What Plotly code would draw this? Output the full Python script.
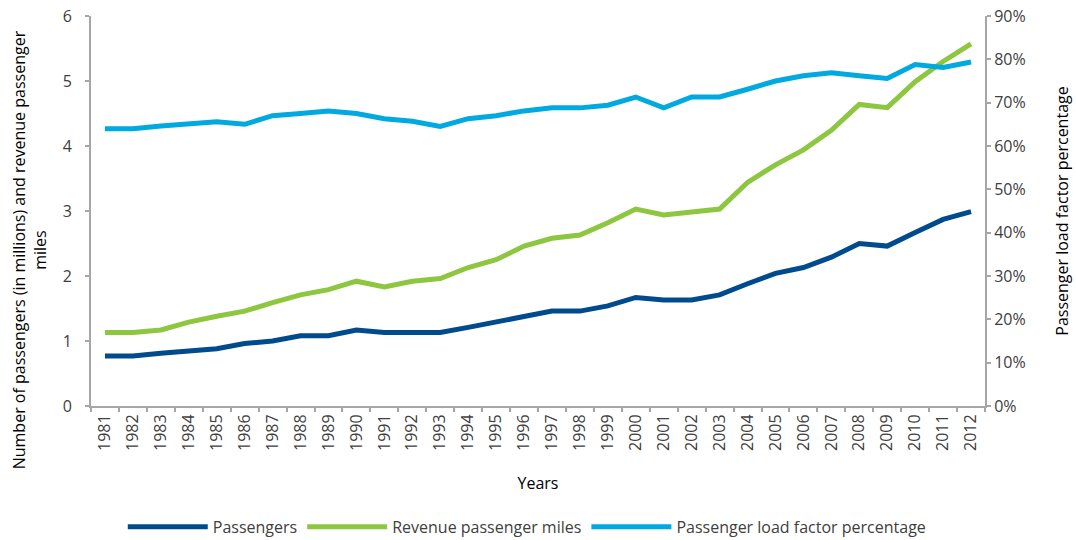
import plotly.graph_objects as go

# -- Data --
YEARS = [str(y) for y in range(1981, 2013)]

PASSENGERS = [
    0.77, 0.77, 0.81, 0.84, 0.88, 0.96, 1.00, 1.08, 1.08, 1.17,
    1.13, 1.13, 1.13, 1.21, 1.29, 1.37, 1.46, 1.46, 1.54, 1.67,
    1.63, 1.63, 1.71, 1.88, 2.04, 2.13, 2.29, 2.50, 2.46, 2.67,
    2.87, 2.99,
]

REVENUE_MILES = [
    1.13, 1.13, 1.17, 1.29, 1.38, 1.46, 1.59, 1.71, 1.79, 1.92,
    1.83, 1.92, 1.96, 2.13, 2.25, 2.46, 2.58, 2.63, 2.82, 3.03,
    2.94, 2.99, 3.03, 3.44, 3.71, 3.94, 4.24, 4.64, 4.59, 4.99,
    5.30, 5.57,
]

LOAD_FACTOR = [
    64.0, 64.0, 64.6, 65.1, 65.6, 65.0, 67.0, 67.5, 68.1, 67.5,
    66.3, 65.7, 64.5, 66.3, 67.0, 68.1, 68.8, 68.8, 69.4, 71.3,
    68.8, 71.3, 71.3, 73.1, 75.0, 76.2, 76.9, 76.2, 75.6, 78.8,
    78.1, 79.4,
]

COLOURS = {
    "passengers": "#004b8d",
    "revenue": "#8dc63f",
    "load": "#00a9e0",
    "axis": "#a6a6a6",
    "text": "#404040",
}

FONT = "Open Sans, Noto Sans, sans-serif"

fig = go.Figure()

fig.add_trace(go.Scatter(
    name="Passengers", x=YEARS, y=PASSENGERS, mode="lines",
    line=dict(color=COLOURS["passengers"], width=5),
))
fig.add_trace(go.Scatter(
    name="Revenue passenger miles", x=YEARS, y=REVENUE_MILES, mode="lines",
    line=dict(color=COLOURS["revenue"], width=5),
))
fig.add_trace(go.Scatter(
    name="Passenger load factor percentage", x=YEARS, y=LOAD_FACTOR,
    mode="lines", yaxis="y2",
    line=dict(color=COLOURS["load"], width=5),
))

axis_common = dict(
    showgrid=False, zeroline=False, showline=True, automargin=False,
    linecolor=COLOURS["axis"], linewidth=2,
    ticks="outside", ticklen=4, tickcolor=COLOURS["axis"], tickwidth=2,
    tickfont=dict(size=16, color=COLOURS["text"]),
)

title_font = dict(size=16, color="black")

fig.update_layout(
    width=1076, height=540,
    margin=dict(l=91, r=91, t=16, b=134, autoexpand=False),
    paper_bgcolor="white", plot_bgcolor="white",
    font=dict(family=FONT, color=COLOURS["text"]),
    showlegend=True,
    xaxis=dict(
        **axis_common,
        type="category", range=[-0.5, len(YEARS) - 0.5],
        tickson="boundaries", tickangle=-90,
        title=dict(text="Years", font=title_font, standoff=28),
    ),
    yaxis=dict(
        **axis_common,
        range=[0, 6], dtick=1, ticklabelstandoff=10,
    ),
    yaxis2=dict(
        **axis_common,
        overlaying="y", side="right",
        range=[0, 90], dtick=10, ticksuffix="%",
        title=dict(
            text="Passenger load factor percentage",
            font=title_font, standoff=32,
        ),
    ),
    legend=dict(
        orientation="h", xanchor="center", x=0.488,
        yanchor="middle", y=-0.31,
        font=dict(size=16, color=COLOURS["text"]),
        itemwidth=80, traceorder="normal",
    ),
)

# Left title sits a bit below the plot centre in the original, so place it by hand.
fig.add_annotation(
    text="Number of passengers (in millions) and revenue passenger<br>miles",
    xref="paper", yref="paper", x=-0.069, y=0.40,
    xanchor="center", yanchor="middle", textangle=-90,
    showarrow=False, font=title_font,
)

# the page's default body margin would shift the 1076x540 figure off the window
fig.write_html(
    "out.html",
    config={"displayModeBar": False},
    post_script="document.body.style.margin='0';",
)
